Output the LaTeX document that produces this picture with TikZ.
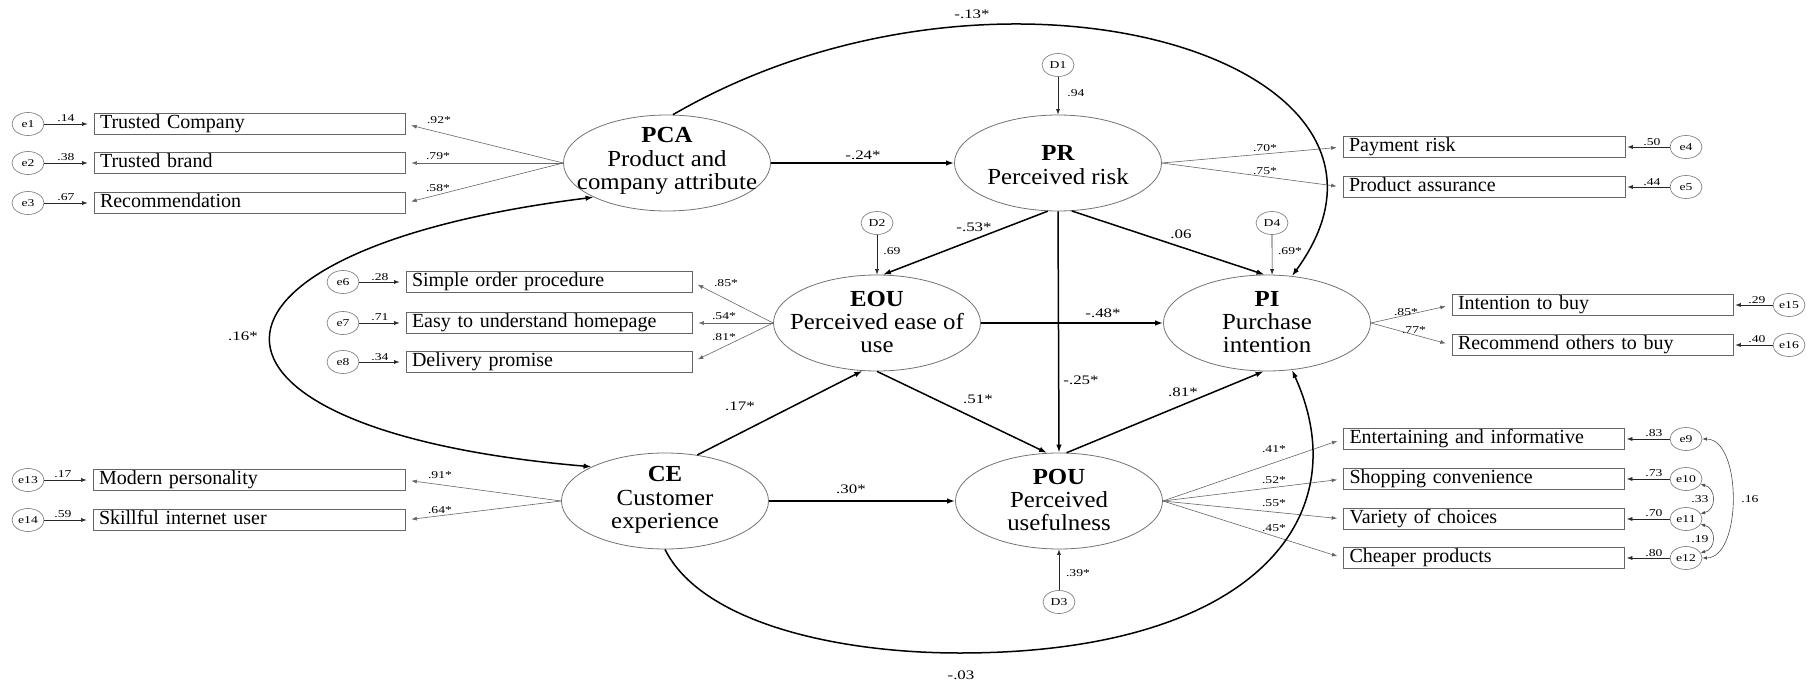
\documentclass[tikz,border=0pt]{standalone}
\usepackage{fontspec}
\setmainfont{Liberation Serif}
\newfontfamily\numfont{Liberation Serif}[FakeStretch=1.3]
\newfontfamily\latfont{Liberation Serif}[FakeStretch=1.08]
\usetikzlibrary{shapes.geometric,arrows.meta}

\tikzset{
  lat/.style={ellipse, draw=black!55, line width=0.8pt, minimum width=207pt, minimum height=96pt, inner sep=0pt},
  lattext/.style={font=\latfont\fontsize{23}{23.3}\selectfont, align=center, inner sep=0pt},
  ind/.style={rectangle, draw=black!60, line width=0.8pt, inner xsep=6pt, inner ysep=1.5pt,
    text height=14pt, text depth=4.5pt, align=left, font=\fontsize{20}{22}\selectfont},
  err/.style={ellipse, draw=black!55, line width=0.6pt, minimum width=32pt, minimum height=23pt,
    inner sep=0pt, font=\numfont\fontsize{10.5}{12}\selectfont},
  num/.style={font=\numfont\fontsize{10.5}{12}\selectfont, inner sep=0pt},
  coef/.style={font=\numfont\fontsize{13}{14}\selectfont, inner sep=0pt},
  load/.style={draw=black!60, line width=0.6pt, -{Latex[length=5.5pt,width=4pt]}, shorten >=6pt},
  resid/.style={draw=black!85, line width=0.6pt, -{Latex[length=5.5pt,width=4pt]}},
  sem/.style={line width=1.5pt, -{Latex[length=8pt,width=5.5pt]}},
  cov/.style={line width=1.5pt, {Latex[length=8pt,width=5.5pt]}-{Latex[length=8pt,width=5.5pt]}},
  ecov/.style={draw=black!70, line width=0.6pt, {Latex[length=4.5pt,width=3.5pt]}-{Latex[length=4.5pt,width=3.5pt]}},
}

\begin{document}
\begin{tikzpicture}[x=1pt,y=-1pt]
\fill[white] (0,0) rectangle (1816,682);
\useasboundingbox (0,0) rectangle (1816,682);

% ---------- latent constructs ----------
\node[lat] (PCA) at (667,163) {};
\node[lattext] (PCAt) at (667,161) {\textbf{PCA}\\Product and\\company attribute};
\node[lat] (PR) at (1058,163) {};
\node[lattext] (PRt) at (1058,165) {\textbf{PR}\\Perceived risk};
\node[lat] (EOU) at (877,323) {};
\node[lattext] (EOUt) at (877,322) {\textbf{EOU}\\Perceived ease of\\use};
\node[lat] (PI) at (1267,323) {};
\node[lattext] (PIt) at (1267,322) {\textbf{PI}\\Purchase\\intention};
\node[lat] (CE) at (665,501) {};
\node[lattext] (CEt) at (665,500) {\textbf{CE}\\Customer\\experience};
\node[lat] (POU) at (1059,501) {};
\node[lattext] (POUt) at (1059,500) {\textbf{POU}\\Perceived\\usefulness};

% ---------- disturbances ----------
\node[err] (D1) at (1058,65) {D1};
\node[err] (D2) at (877,223) {D2};
\node[err] (D3) at (1059,602) {D3};
\node[err] (D4) at (1272,223) {D4};

% ---------- indicators of PCA ----------
\node[ind, text width=299pt] (tc)  at (249.5,124) {Trusted Company};
\node[ind, text width=299pt] (tb)  at (249.5,163) {Trusted brand};
\node[ind, text width=299pt] (rec) at (249.5,203) {Recommendation};
\node[err] (e1) at (28,124) {e1};
\node[err] (e2) at (28,163) {e2};
\node[err] (e3) at (28,203) {e3};

% ---------- indicators of EOU ----------
\node[ind, text width=274pt] (sop) at (549,282) {Simple order procedure};
\node[ind, text width=274pt] (euh) at (549,323) {Easy to understand homepage};
\node[ind, text width=274pt] (dlp) at (549,362) {Delivery promise};
\node[err] (e6) at (343,282) {e6};
\node[err] (e7) at (343,323) {e7};
\node[err] (e8) at (343,362) {e8};

% ---------- indicators of CE ----------
\node[ind, text width=300pt] (mop) at (249,480) {Modern personality};
\node[ind, text width=300pt] (siu) at (249,520) {Skillful internet user};
\node[err] (e13) at (28,480) {e13};
\node[err] (e14) at (28,520) {e14};

% ---------- indicators of PR ----------
\node[ind, text width=270pt] (pmr) at (1484,147) {Payment risk};
\node[ind, text width=270pt] (pas) at (1484,187) {Product assurance};
\node[err] (e4) at (1686,147) {e4};
\node[err] (e5) at (1686,187) {e5};

% ---------- indicators of PI ----------
\node[ind, text width=269pt] (itb) at (1592.5,305) {Intention to buy};
\node[ind, text width=269pt] (rob) at (1592.5,345) {Recommend others to buy};
\node[err] (e15) at (1789,305) {e15};
\node[err] (e16) at (1789,345) {e16};

% ---------- indicators of POU ----------
\node[ind, text width=269pt] (eai) at (1484,439) {Entertaining and informative};
\node[ind, text width=269pt] (shc) at (1484,479) {Shopping convenience};
\node[ind, text width=269pt] (voc) at (1484,519) {Variety of choices};
\node[ind, text width=269pt] (chp) at (1484,558) {Cheaper products};
\node[err] (e9)  at (1686,439) {e9};
\node[err] (e10) at (1686,479) {e10};
\node[err] (e11) at (1686,519) {e11};
\node[err] (e12) at (1686,558) {e12};

% ---------- measurement paths ----------
\foreach \b in {tc,tb,rec} \draw[load] (PCA.west) -- (\b.east);
\foreach \b in {sop,euh,dlp} \draw[load] (EOU.west) -- (\b.east);
\foreach \b in {mop,siu} \draw[load] (CE.west) -- (\b.east);
\foreach \b in {pmr,pas} \draw[load] (PR.east) -- (\b.west);
\foreach \b in {itb,rob} \draw[load] (PI.east) -- (\b.west);
\foreach \b in {eai,shc,voc,chp} \draw[load] (POU.east) -- (\b.west);

% ---------- measurement errors ----------
\foreach \e/\b in {e1/tc,e2/tb,e3/rec,e6/sop,e7/euh,e8/dlp,e13/mop,e14/siu}
  \draw[resid, shorten >=6pt] (\e.east) -- (\b.west);
\foreach \e/\b in {e4/pmr,e5/pas,e15/itb,e16/rob,e9/eai,e10/shc,e11/voc,e12/chp}
  \draw[resid, shorten >=2pt] (\e.west) -- (\b.east);

% ---------- disturbance paths ----------
\draw[resid] (D1) -- (PR.north);
\draw[resid] (D2) -- (EOU.north);
\draw[resid] (D3) -- (POU.south);
\draw[resid] (D4) -- (PI.84);

% ---------- structural paths ----------
\draw[sem] (PCA.east) -- (PR.west);
\draw[sem] (PR.258) -- (EOU.83);
\draw[sem] (PR.south) -- (POU.north);
\draw[sem] (PR.286) -- (PI.93);
\draw[sem] (EOU.east) -- (PI.west);
\draw[sem] (EOU.south) -- (POU.104);
\draw[sem] (CE.55) -- (EOU.253);
\draw[sem] (CE.east) -- (POU.west);
\draw[sem] (POU.81) -- (PI.266);
\draw[sem] (PCA.83) .. controls (1000,-75) and (1450,60) .. (PI.62);
\draw[sem] (CE.south) .. controls (700,620) and (830,653) .. (960,653)
           .. controls (1250,653) and (1360,520) .. (PI.298);
\draw[cov] (PCA.205) .. controls (168,250) and (160,430) .. (CE.155);

% ---------- error covariances ----------
\draw[ecov] (e10.-20) .. controls +(16,4) and +(16,-4) .. (e11.20);
\draw[ecov] (e11.-20) .. controls +(16,4) and +(16,-4) .. (e12.20);
\draw[ecov] (e9.east) .. controls +(40,0) and +(40,0) .. (e12.east);

% ---------- coefficients ----------
\node[coef] (cPCAPI) at (972,14) {-.13*};
\node[coef] (cPCAPR) at (863,155) {-.24*};
\node[coef] (cPREOU) at (974,227) {-.53*};
\node[coef] (cPRPI) at (1181,234) {.06};
\node[coef] (cEOUPI) at (1103,313) {-.48*};
\node[coef] (cPRPOU) at (1081,380) {-.25*};
\node[coef] (cCEEOU) at (740,406) {.17*};
\node[coef] (cEOUPOU) at (978,399) {.51*};
\node[coef] (cPOUPI) at (1183,392) {.81*};
\node[coef] (cCEPOU) at (851,489) {.30*};
\node[coef] (cPCACE) at (243,336) {.16*};
\node[coef] (cCEPI) at (961,675) {-.03};

\node[num] (dD1) at (1076,93) {.94};
\node[num] (dD2) at (892,251) {.69};
\node[num] (dD4) at (1290,251) {.69*};
\node[num] (dD3) at (1078,573) {.39*};

% loadings
\node[num] (l1) at (439,120) {.92*};
\node[num] (l2) at (438,156) {.79*};
\node[num] (l3) at (438,188) {.58*};
\node[num] (l6) at (726,283) {.85*};
\node[num] (l7) at (724,316) {.54*};
\node[num] (l8) at (724,337) {.81*};
\node[num] (l13) at (440,475) {.91*};
\node[num] (l14) at (440,510) {.64*};
\node[num] (l4) at (1265,148) {.70*};
\node[num] (l5) at (1265,171) {.75*};
\node[num] (l15) at (1406,312) {.85*};
\node[num] (l16) at (1414,330) {.77*};
\node[num] (l9) at (1274,449) {.41*};
\node[num] (l10) at (1274,480) {.52*};
\node[num] (l11) at (1274,503) {.55*};
\node[num] (l12) at (1274,528) {.45*};

% error weights
\node[num] (w1) at (66,118) {.14};
\node[num] (w2) at (66,157) {.38};
\node[num] (w3) at (66,197) {.67};
\node[num] (w6) at (380,277) {.28};
\node[num] (w7) at (380,317) {.71};
\node[num] (w8) at (380,357) {.34};
\node[num] (w13) at (63,474) {.17};
\node[num] (w14) at (63,514) {.59};
\node[num] (w4) at (1652,142) {.50};
\node[num] (w5) at (1652,182) {.44};
\node[num] (w15) at (1757,300) {.29};
\node[num] (w16) at (1757,339) {.40};
\node[num] (w9) at (1654,433) {.83};
\node[num] (w10) at (1654,473) {.73};
\node[num] (w11) at (1654,513) {.70};
\node[num] (w12) at (1654,553) {.80};

% covariance values
\node[num] (k1011) at (1700,499) {.33};
\node[num] (k1112) at (1700,539) {.19};
\node[num] (k912) at (1750,499) {.16};
\end{tikzpicture}
\end{document}
